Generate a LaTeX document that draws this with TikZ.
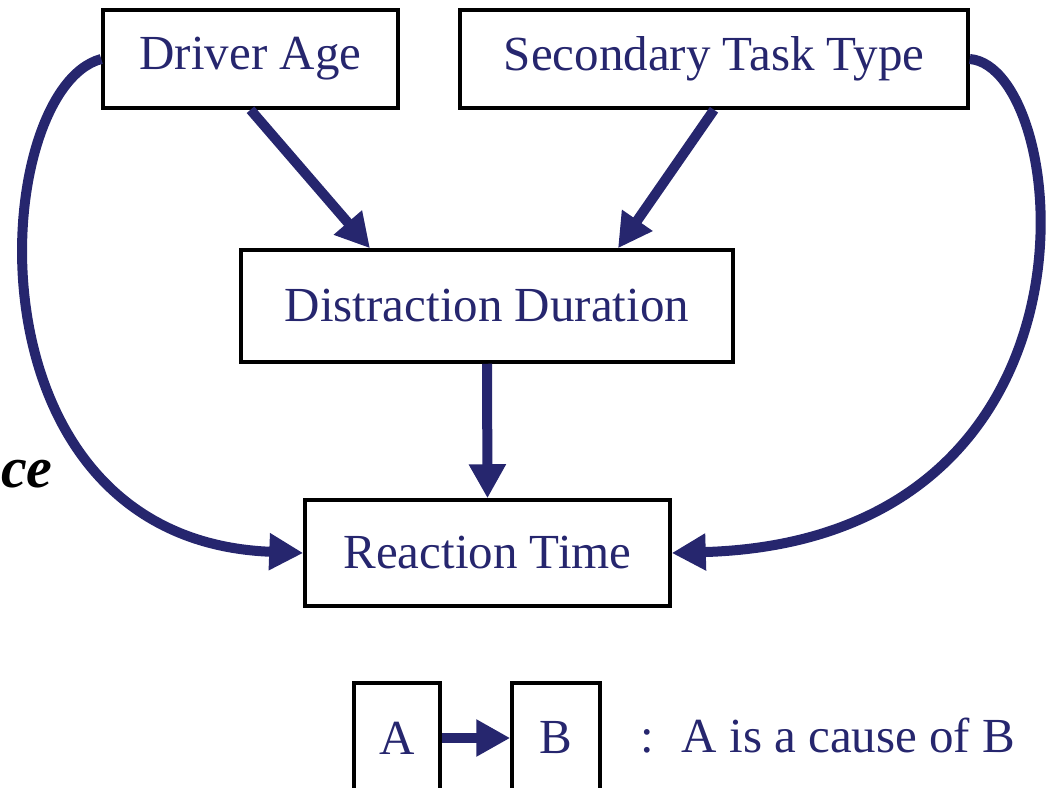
\documentclass[tikz,border=0pt]{standalone}
\usepackage{fontspec}
\setmainfont{Liberation Serif}
\usetikzlibrary{arrows.meta}
\definecolor{causeblue}{RGB}{38,38,110}

\begin{document}
\begin{tikzpicture}[x=1pt,y=-1pt,
	box/.style={draw=black,line width=3.5pt,inner sep=0pt,text=causeblue,
		font=\fontsize{49}{58}\selectfont},
	cause/.style={draw=causeblue,line width=10pt,-{Triangle[length=34pt,width=35pt]}}]
				\useasboundingbox (0,0) rectangle (1049,787);
				\clip (0,0) rectangle (1049,787);
				\node[box,
				minimum width = 295pt,
				minimum height = 98pt] (age) at(250.5,59){Driver Age};
				\node[box,
				minimum width = 508pt,
				minimum height = 98pt] (task) at(714,59){Secondary Task Type};
				\node[box,
				minimum width = 492pt,
				minimum height = 112pt] (dist) at(487,306){Distraction Duration};
				\node[box,
				minimum width = 365pt,
				minimum height = 106pt] (react) at(487.5,553){Reaction Time};
				\node[inner sep=0pt,anchor=base west,
				font=\fontsize{58}{64}\selectfont\bfseries\itshape] (cut) at(1,487){ce};
				% legend
				\node[box,
				minimum width = 86pt,
				minimum height = 110pt] (a) at(397,738){A};
				\node[box,
				minimum width = 88pt,
				minimum height = 110pt] (b) at(556,738){B};
				\node[inner sep=0pt,anchor=base west,text=causeblue,
				font=\fontsize{49}{58}\selectfont] (key) at(640,752){:\hspace{28pt}A is a cause of B};
				\draw[cause] (age.south) -- ([xshift=-117pt]dist.north);
				\draw[cause] (task.south) -- ([xshift=131pt]dist.north);
				\draw[cause] (dist.south) -- (react.north);
				\draw[cause] (age.west) .. controls +(-113,30) and +(-345,-13) .. (react.west);
				\draw[cause] (task.east) .. controls +(102,8) and +(450,-13) .. (react.east);
				\draw[cause] (a.east) -- (b.west);
			\end{tikzpicture}
\end{document}
